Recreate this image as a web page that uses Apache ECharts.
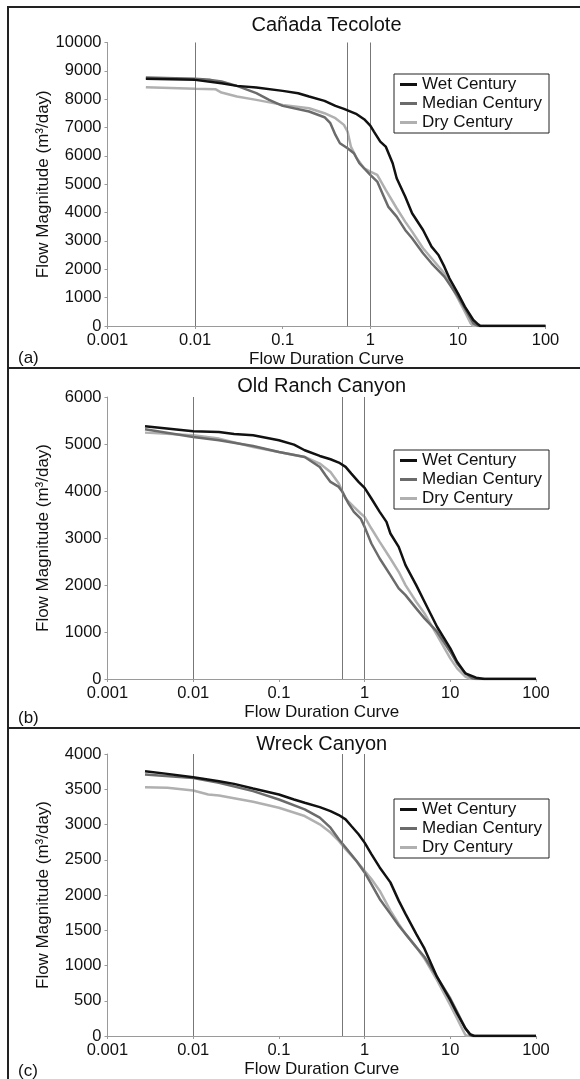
<!DOCTYPE html>
<html>
<head>
<meta charset="utf-8">
<script src="https://cdn.jsdelivr.net/npm/echarts@6/dist/echarts.min.js"></script>
<style>
html,body{margin:0;padding:0;background:#fff;}
#chart{width:580px;height:1079px;}
</style>
</head>
<body>
<div id="chart"></div>
<script>
// ---- data (x: flow duration %, y: m3/day) ----
const panelTitles = ['Cañada Tecolote', 'Old Ranch Canyon', 'Wreck Canyon'];
const panelLetters = ['(a)', '(b)', '(c)'];
const seriesNames = ['Wet Century', 'Median Century', 'Dry Century'];
const xTickLabels = ['0.001', '0.01', '0.1', '1', '10', '100'];
const yMax = [10000, 6000, 4000];
const yInterval = [1000, 1000, 500];
const refLines = [0.01, 0.548, 1];

const tecoloteWet = [[0.00274,8718],[0.01,8682],[0.02,8560],[0.03,8470],[0.05,8412],[0.1,8294],[0.15,8212],[0.2,8094],[0.3,7941],[0.4,7765],[0.5,7659],[0.7,7471],[0.85,7294],[1.0,7071],[1.1,6859],[1.3,6506],[1.5,6329],[1.8,5741],[2.0,5212],[2.5,4565],[3,3976],[4,3388],[5,2800],[6,2506],[7,2094],[8,1682],[10,1153],[12,682],[15,212],[17,59],[18,0],[100,0]];
const tecoloteMedian = [[0.00274,8765],[0.01,8718],[0.015,8682],[0.02,8624],[0.03,8470],[0.05,8212],[0.07,7976],[0.1,7765],[0.2,7565],[0.3,7365],[0.35,7153],[0.4,6741],[0.45,6447],[0.55,6271],[0.65,6094],[0.75,5741],[1.0,5329],[1.2,5094],[1.4,4624],[1.6,4212],[2.0,3859],[2.5,3388],[3,3094],[4,2565],[5,2212],[7,1741],[10,1035],[12,624],[15,94],[17,0],[100,0]];
const tecoloteDry = [[0.00274,8424],[0.01,8365],[0.017,8353],[0.02,8235],[0.03,8094],[0.05,7976],[0.1,7800],[0.2,7682],[0.3,7506],[0.4,7329],[0.5,7094],[0.55,6859],[0.6,6329],[0.7,5918],[0.85,5565],[1.0,5447],[1.2,5329],[1.5,4800],[2.0,4153],[2.5,3682],[3,3329],[4,2741],[5,2388],[7,1859],[10,976],[12,506],[14,94],[15,0],[100,0]];

const oldRanchWet = [[0.00274,5377],[0.01,5271],[0.02,5256],[0.03,5214],[0.05,5186],[0.1,5079],[0.15,4987],[0.2,4867],[0.3,4746],[0.4,4675],[0.5,4605],[0.6,4513],[0.7,4371],[0.85,4194],[1.0,4066],[1.2,3840],[1.5,3556],[1.8,3344],[2.0,3096],[2.5,2812],[3,2423],[4,1998],[5,1643],[7,1112],[10,652],[12,368],[15,120],[20,28],[25,0],[100,0]];
const oldRanchMedian = [[0.00274,5313],[0.01,5150],[0.02,5079],[0.05,4959],[0.1,4831],[0.2,4725],[0.3,4512],[0.35,4335],[0.4,4194],[0.5,4087],[0.55,3981],[0.65,3733],[0.75,3556],[0.9,3414],[1.0,3237],[1.2,2883],[1.5,2564],[2,2210],[2.5,1927],[3,1785],[4,1502],[5,1289],[7,1006],[10,581],[12,333],[15,120],[18,14],[20,0],[100,0]];
const oldRanchDry = [[0.00274,5242],[0.01,5186],[0.02,5115],[0.05,4937],[0.1,4831],[0.2,4725],[0.3,4583],[0.4,4406],[0.5,4158],[0.6,3840],[0.75,3662],[0.9,3521],[1.0,3450],[1.2,3202],[1.5,2919],[2,2564],[2.5,2281],[3,1998],[4,1643],[5,1396],[7,935],[10,439],[12,227],[15,50],[17,0],[100,0]];

const wreckWet = [[0.00274,3755],[0.005,3718],[0.01,3671],[0.02,3614],[0.03,3576],[0.05,3511],[0.1,3426],[0.15,3355],[0.2,3308],[0.3,3247],[0.4,3190],[0.5,3134],[0.6,3073],[0.7,2979],[0.85,2861],[1.0,2743],[1.2,2579],[1.5,2391],[2.0,2179],[2.5,1920],[3,1732],[4,1449],[5,1238],[7,838],[10,508],[12,320],[15,108],[17,28],[19,0],[100,0]];
const wreckMedian = [[0.00274,3708],[0.01,3661],[0.02,3591],[0.05,3473],[0.1,3355],[0.2,3214],[0.3,3097],[0.4,2955],[0.5,2791],[0.6,2673],[0.8,2485],[1.0,2320],[1.2,2155],[1.5,1944],[2,1732],[2.5,1567],[3,1449],[4,1261],[5,1120],[7,838],[10,532],[12,344],[15,108],[17,14],[18,0],[100,0]];
const wreckDry = [[0.00274,3530],[0.005,3520],[0.01,3482],[0.015,3426],[0.02,3412],[0.05,3322],[0.1,3238],[0.2,3120],[0.3,3002],[0.4,2885],[0.5,2767],[0.6,2650],[0.8,2485],[1.0,2344],[1.2,2226],[1.5,2061],[2,1779],[2.5,1591],[3,1449],[4,1261],[5,1096],[7,791],[10,438],[12,249],[14,85],[15,14],[16,0],[100,0]];

const panelData = [
  [tecoloteWet, tecoloteMedian, tecoloteDry],
  [oldRanchWet, oldRanchMedian, oldRanchDry],
  [wreckWet, wreckMedian, wreckDry]
];

// ---- layout / style ----
const FONT = '"Liberation Sans", Arial, Helvetica, sans-serif';
const colors = ['#111111', '#6b6b6b', '#b0b0b0'];
const grids = [
  {left: 107.5, top: 42.5, width: 438, height: 283.5},
  {left: 107.5, top: 397, width: 428.5, height: 282},
  {left: 107.5, top: 754, width: 428.5, height: 284}
];
const legendTops = [74, 450, 799];
const titleY = [25, 386, 744];
const letterY = [358, 718, 1071];
const axisGray = '#9a9a9a';

const option = {
  backgroundColor: '#fff',
  animation: false,
  grid: grids.map(g => Object.assign({containLabel: false}, g)),
  xAxis: grids.map((g, i) => ({
    type: 'log', logBase: 10, gridIndex: i, min: 0.001, max: 100,
    name: 'Flow Duration Curve', nameLocation: 'middle', nameGap: 25,
    nameMoveOverlap: false,
    nameTextStyle: {fontFamily: FONT, fontSize: 17, color: '#111'},
    axisLine: {show: true, lineStyle: {color: axisGray, width: 1}},
    axisTick: {show: true, length: 3, lineStyle: {color: axisGray}},
    minorTick: {show: false},
    splitLine: {show: false},
    axisLabel: {
      fontFamily: FONT, fontSize: 16.5, color: '#111', margin: 6,
      formatter: v => {
        const k = Math.round(Math.log10(v)) + 3;
        return xTickLabels[k] !== undefined ? xTickLabels[k] : '';
      }
    }
  })),
  yAxis: grids.map((g, i) => ({
    type: 'value', gridIndex: i, min: 0, max: yMax[i], interval: yInterval[i],
    name: 'Flow Magnitude (m³/day)', nameLocation: 'middle', nameGap: 56,
    nameMoveOverlap: false,
    nameTextStyle: {fontFamily: FONT, fontSize: 17, color: '#111'},
    axisLine: {show: true, lineStyle: {color: axisGray, width: 1}},
    axisTick: {show: true, length: 3, lineStyle: {color: axisGray}},
    splitLine: {show: false},
    axisLabel: {fontFamily: FONT, fontSize: 16.5, color: '#111', margin: 6, formatter: v => String(v)}
  })),
  legend: grids.map((g, i) => ({
    data: seriesNames,
    orient: 'vertical',
    left: 394, top: legendTops[i],
    width: 158,
    padding: [2, 7, 2, 6],
    itemGap: 2,
    itemWidth: 17, itemHeight: 3,
    icon: 'rect',
    borderColor: '#222', borderWidth: 1,
    selectedMode: false,
    textStyle: {fontFamily: FONT, fontSize: 17, color: '#111', lineHeight: 17}
  })),
  graphic: [
    {type: 'line', shape: {x1: 8, y1: 6, x2: 8, y2: 1079}, style: {stroke: '#222', lineWidth: 2}, z: 100},
    {type: 'line', shape: {x1: 7, y1: 7, x2: 580, y2: 7}, style: {stroke: '#222', lineWidth: 2}, z: 100},
    {type: 'line', shape: {x1: 7, y1: 368, x2: 580, y2: 368}, style: {stroke: '#222', lineWidth: 2}, z: 100},
    {type: 'line', shape: {x1: 7, y1: 728, x2: 580, y2: 728}, style: {stroke: '#222', lineWidth: 2}, z: 100}
  ].concat(panelTitles.map((t, i) => ({
    type: 'text', x: grids[i].left + grids[i].width / 2, y: titleY[i],
    style: {text: t, fill: '#111', fontFamily: FONT, fontSize: 20, align: 'center', verticalAlign: 'middle'}
  }))).concat(panelLetters.map((t, i) => ({
    type: 'text', x: 18, y: letterY[i],
    style: {text: t, fill: '#111', fontFamily: FONT, fontSize: 17, align: 'left', verticalAlign: 'middle'}
  }))),
  series: []
};

panelData.forEach((set, i) => {
  option.series.push({
    name: 'ref' + i, type: 'line', xAxisIndex: i, yAxisIndex: i, data: [], z: 1,
    silent: true,
    markLine: {
      silent: true, symbol: 'none', animation: false,
      label: {show: false},
      lineStyle: {color: '#777', width: 1, type: 'solid'},
      data: refLines.map(v => ({xAxis: v}))
    }
  });
  set.forEach((d, k) => {
    option.series.push({
      name: seriesNames[k], type: 'line', xAxisIndex: i, yAxisIndex: i,
      data: d, showSymbol: false, symbol: 'none', z: 5 - k,
      lineStyle: {color: colors[k], width: 2.5},
      itemStyle: {color: colors[k]}
    });
  });
});

const chart = echarts.init(document.getElementById('chart'), null, {renderer: 'canvas'});
chart.setOption(option);
</script>
</body>
</html>
